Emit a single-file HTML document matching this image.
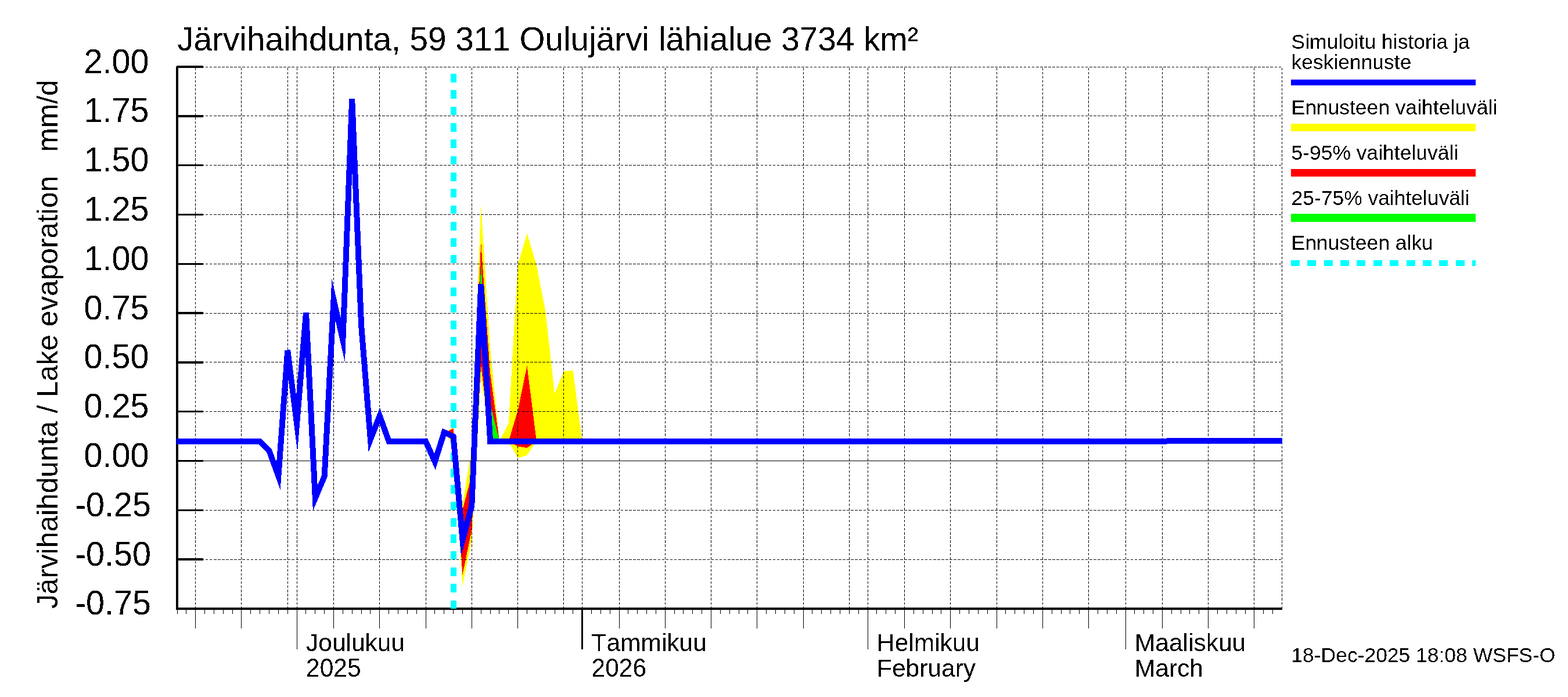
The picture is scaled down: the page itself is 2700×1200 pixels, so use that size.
<!DOCTYPE html>
<html lang="fi"><head><meta charset="utf-8">
<title>Järvihaihdunta, 59 311 Oulujärvi lähialue 3734 km²</title>
<style>
html,body{margin:0;padding:0;background:#fff;}
body{width:2700px;height:1200px;overflow:hidden;}
svg{display:block;}
text{font-family:"Liberation Sans", Arial, Helvetica, sans-serif;fill:#000;font-kerning:none;font-variant-ligatures:none;}
.t57{font-size:56.7px;}.tk{font-size:57.5px;}.yl{font-size:49.65px;}.t43{font-size:42.5px;}.t35{font-size:35.45px;}
</style></head><body>
<svg width="2700" height="1200" viewBox="0 0 2700 1200" shape-rendering="crispEdges">
<defs><filter id="crisp" x="0" y="0" width="2700" height="1200" filterUnits="userSpaceOnUse" color-interpolation-filters="sRGB"><feComponentTransfer><feFuncA type="discrete" tableValues="0 1"/></feComponentTransfer></filter></defs>
<rect x="0" y="0" width="2700" height="1200" fill="#ffffff"/>
<g id="bands">
<polygon fill="#ffff00" points="764.8,745.0 780.6,736.0 796.5,868.0 812.3,772.0 828.2,352.0 844.1,600.0 859.9,759.0 875.8,729.0 891.6,456.0 907.5,402.0 923.3,454.0 939.2,535.0 955.0,678.0 970.9,639.0 986.7,638.0 1002.6,760.0 1002.6,760.0 986.7,760.0 970.9,760.0 955.0,760.0 939.2,760.0 923.3,760.0 907.5,784.0 891.6,788.5 875.8,760.0 859.9,760.0 844.1,760.0 828.2,647.0 812.3,929.0 796.5,1008.0 780.6,765.0 764.8,745.0"/>
<polygon fill="#ff0000" points="764.8,745.0 780.6,738.0 796.5,877.0 812.3,818.0 828.2,417.0 844.1,642.0 859.9,759.0 875.8,760.0 891.6,707.0 907.5,630.0 923.3,755.0 939.2,760.0 939.2,760.0 923.3,760.0 907.5,771.0 891.6,768.5 875.8,760.0 859.9,760.0 844.1,760.0 828.2,629.0 812.3,913.0 796.5,989.0 780.6,757.0 764.8,745.0"/>
<polygon fill="#00ff00" points="812.3,871.0 828.2,455.0 844.1,695.0 859.9,759.0 859.9,760.0 844.1,760.0 828.2,520.0 812.3,871.0"/>
</g>
<g id="grid" stroke="#000" stroke-width="1" fill="none">
<line x1="304.20" y1="115.5" x2="2207.00" y2="115.5" stroke-dasharray="4.6 2.48"/>
<line x1="304.20" y1="199.5" x2="2207.00" y2="199.5" stroke-dasharray="4.6 2.48"/>
<line x1="304.20" y1="284.5" x2="2207.00" y2="284.5" stroke-dasharray="4.6 2.48"/>
<line x1="304.20" y1="369.5" x2="2207.00" y2="369.5" stroke-dasharray="4.6 2.48"/>
<line x1="304.20" y1="454.5" x2="2207.00" y2="454.5" stroke-dasharray="4.6 2.48"/>
<line x1="304.20" y1="539.5" x2="2207.00" y2="539.5" stroke-dasharray="4.6 2.48"/>
<line x1="304.20" y1="623.5" x2="2207.00" y2="623.5" stroke-dasharray="4.6 2.48"/>
<line x1="304.20" y1="708.5" x2="2207.00" y2="708.5" stroke-dasharray="4.6 2.48"/>
<line x1="304.20" y1="878.5" x2="2207.00" y2="878.5" stroke-dasharray="4.6 2.48"/>
<line x1="304.20" y1="963.5" x2="2207.00" y2="963.5" stroke-dasharray="4.6 2.48"/>
<line x1="336.5" y1="1047.85" x2="336.5" y2="115.00" stroke-dasharray="4.24 2.835"/>
<line x1="415.5" y1="1047.85" x2="415.5" y2="115.00" stroke-dasharray="4.24 2.835"/>
<line x1="495.5" y1="1047.85" x2="495.5" y2="115.00" stroke-dasharray="4.24 2.835"/>
<line x1="511.5" y1="1047.85" x2="511.5" y2="115.00" stroke-dasharray="4.24 2.835"/>
<line x1="574.5" y1="1047.85" x2="574.5" y2="115.00" stroke-dasharray="4.24 2.835"/>
<line x1="653.5" y1="1047.85" x2="653.5" y2="115.00" stroke-dasharray="4.24 2.835"/>
<line x1="733.5" y1="1047.85" x2="733.5" y2="115.00" stroke-dasharray="4.24 2.835"/>
<line x1="812.5" y1="1047.85" x2="812.5" y2="115.00" stroke-dasharray="4.24 2.835"/>
<line x1="891.5" y1="1047.85" x2="891.5" y2="115.00" stroke-dasharray="4.24 2.835"/>
<line x1="970.5" y1="1047.85" x2="970.5" y2="115.00" stroke-dasharray="4.24 2.835"/>
<line x1="1002.5" y1="1047.85" x2="1002.5" y2="115.00" stroke-dasharray="4.24 2.835"/>
<line x1="1066.5" y1="1047.85" x2="1066.5" y2="115.00" stroke-dasharray="4.24 2.835"/>
<line x1="1145.5" y1="1047.85" x2="1145.5" y2="115.00" stroke-dasharray="4.24 2.835"/>
<line x1="1224.5" y1="1047.85" x2="1224.5" y2="115.00" stroke-dasharray="4.24 2.835"/>
<line x1="1303.5" y1="1047.85" x2="1303.5" y2="115.00" stroke-dasharray="4.24 2.835"/>
<line x1="1383.5" y1="1047.85" x2="1383.5" y2="115.00" stroke-dasharray="4.24 2.835"/>
<line x1="1462.5" y1="1047.85" x2="1462.5" y2="115.00" stroke-dasharray="4.24 2.835"/>
<line x1="1494.5" y1="1047.85" x2="1494.5" y2="115.00" stroke-dasharray="4.24 2.835"/>
<line x1="1557.5" y1="1047.85" x2="1557.5" y2="115.00" stroke-dasharray="4.24 2.835"/>
<line x1="1636.5" y1="1047.85" x2="1636.5" y2="115.00" stroke-dasharray="4.24 2.835"/>
<line x1="1716.5" y1="1047.85" x2="1716.5" y2="115.00" stroke-dasharray="4.24 2.835"/>
<line x1="1795.5" y1="1047.85" x2="1795.5" y2="115.00" stroke-dasharray="4.24 2.835"/>
<line x1="1874.5" y1="1047.85" x2="1874.5" y2="115.00" stroke-dasharray="4.24 2.835"/>
<line x1="1938.5" y1="1047.85" x2="1938.5" y2="115.00" stroke-dasharray="4.24 2.835"/>
<line x1="2001.5" y1="1047.85" x2="2001.5" y2="115.00" stroke-dasharray="4.24 2.835"/>
<line x1="2080.5" y1="1047.85" x2="2080.5" y2="115.00" stroke-dasharray="4.24 2.835"/>
<line x1="2159.5" y1="1047.85" x2="2159.5" y2="115.00" stroke-dasharray="4.24 2.835"/>
<line x1="2207.5" y1="1047.85" x2="2207.5" y2="115.00" stroke-dasharray="4.24 2.835"/>
</g>
<g id="axes" fill="#000">
<rect x="303" y="115" width="4" height="935"/>
<rect x="303" y="1046" width="1905" height="4"/>
<rect x="304" y="113" width="46" height="4"/>
<rect x="304" y="198" width="46" height="4"/>
<rect x="304" y="283" width="46" height="3"/>
<rect x="304" y="368" width="46" height="3"/>
<rect x="304" y="453" width="46" height="3"/>
<rect x="304" y="537" width="46" height="4"/>
<rect x="304" y="622" width="46" height="4"/>
<rect x="304" y="707" width="46" height="3"/>
<rect x="304" y="792" width="46" height="3"/>
<rect x="304" y="877" width="46" height="3"/>
<rect x="304" y="961" width="46" height="4"/>
<rect x="305" y="1048" width="1" height="9"/>
<rect x="320" y="1048" width="1" height="9"/>
<rect x="336" y="1048" width="1" height="34"/>
<rect x="352" y="1048" width="1" height="9"/>
<rect x="368" y="1048" width="1" height="9"/>
<rect x="384" y="1048" width="1" height="9"/>
<rect x="400" y="1048" width="1" height="9"/>
<rect x="415" y="1048" width="1" height="34"/>
<rect x="431" y="1048" width="1" height="9"/>
<rect x="447" y="1048" width="1" height="9"/>
<rect x="463" y="1048" width="1" height="9"/>
<rect x="479" y="1048" width="1" height="9"/>
<rect x="495" y="1048" width="1" height="9"/>
<rect x="511" y="1048" width="1" height="70"/>
<rect x="526" y="1048" width="1" height="9"/>
<rect x="542" y="1048" width="1" height="9"/>
<rect x="558" y="1048" width="1" height="9"/>
<rect x="574" y="1048" width="1" height="34"/>
<rect x="590" y="1048" width="1" height="9"/>
<rect x="606" y="1048" width="1" height="9"/>
<rect x="622" y="1048" width="1" height="9"/>
<rect x="637" y="1048" width="1" height="9"/>
<rect x="653" y="1048" width="1" height="34"/>
<rect x="669" y="1048" width="1" height="9"/>
<rect x="685" y="1048" width="1" height="9"/>
<rect x="701" y="1048" width="1" height="9"/>
<rect x="717" y="1048" width="1" height="9"/>
<rect x="733" y="1048" width="1" height="34"/>
<rect x="748" y="1048" width="1" height="9"/>
<rect x="764" y="1048" width="1" height="9"/>
<rect x="780" y="1048" width="1" height="9"/>
<rect x="796" y="1048" width="1" height="9"/>
<rect x="812" y="1048" width="1" height="34"/>
<rect x="828" y="1048" width="1" height="9"/>
<rect x="844" y="1048" width="1" height="9"/>
<rect x="859" y="1048" width="1" height="9"/>
<rect x="875" y="1048" width="1" height="9"/>
<rect x="891" y="1048" width="1" height="34"/>
<rect x="907" y="1048" width="1" height="9"/>
<rect x="923" y="1048" width="1" height="9"/>
<rect x="939" y="1048" width="1" height="9"/>
<rect x="955" y="1048" width="1" height="9"/>
<rect x="970" y="1048" width="1" height="9"/>
<rect x="986" y="1048" width="1" height="9"/>
<rect x="1001" y="1048" width="3" height="70"/>
<rect x="1018" y="1048" width="1" height="9"/>
<rect x="1034" y="1048" width="1" height="9"/>
<rect x="1050" y="1048" width="1" height="9"/>
<rect x="1066" y="1048" width="1" height="34"/>
<rect x="1081" y="1048" width="1" height="9"/>
<rect x="1097" y="1048" width="1" height="9"/>
<rect x="1113" y="1048" width="1" height="9"/>
<rect x="1129" y="1048" width="1" height="9"/>
<rect x="1145" y="1048" width="1" height="34"/>
<rect x="1161" y="1048" width="1" height="9"/>
<rect x="1176" y="1048" width="1" height="9"/>
<rect x="1192" y="1048" width="1" height="9"/>
<rect x="1208" y="1048" width="1" height="9"/>
<rect x="1224" y="1048" width="1" height="34"/>
<rect x="1240" y="1048" width="1" height="9"/>
<rect x="1256" y="1048" width="1" height="9"/>
<rect x="1272" y="1048" width="1" height="9"/>
<rect x="1287" y="1048" width="1" height="9"/>
<rect x="1303" y="1048" width="1" height="34"/>
<rect x="1319" y="1048" width="1" height="9"/>
<rect x="1335" y="1048" width="1" height="9"/>
<rect x="1351" y="1048" width="1" height="9"/>
<rect x="1367" y="1048" width="1" height="9"/>
<rect x="1383" y="1048" width="1" height="34"/>
<rect x="1398" y="1048" width="1" height="9"/>
<rect x="1414" y="1048" width="1" height="9"/>
<rect x="1430" y="1048" width="1" height="9"/>
<rect x="1446" y="1048" width="1" height="9"/>
<rect x="1462" y="1048" width="1" height="9"/>
<rect x="1478" y="1048" width="1" height="9"/>
<rect x="1494" y="1048" width="1" height="70"/>
<rect x="1509" y="1048" width="1" height="9"/>
<rect x="1525" y="1048" width="1" height="9"/>
<rect x="1541" y="1048" width="1" height="9"/>
<rect x="1557" y="1048" width="1" height="34"/>
<rect x="1573" y="1048" width="1" height="9"/>
<rect x="1589" y="1048" width="1" height="9"/>
<rect x="1605" y="1048" width="1" height="9"/>
<rect x="1620" y="1048" width="1" height="9"/>
<rect x="1636" y="1048" width="1" height="34"/>
<rect x="1652" y="1048" width="1" height="9"/>
<rect x="1668" y="1048" width="1" height="9"/>
<rect x="1684" y="1048" width="1" height="9"/>
<rect x="1700" y="1048" width="1" height="9"/>
<rect x="1716" y="1048" width="1" height="34"/>
<rect x="1731" y="1048" width="1" height="9"/>
<rect x="1747" y="1048" width="1" height="9"/>
<rect x="1763" y="1048" width="1" height="9"/>
<rect x="1779" y="1048" width="1" height="9"/>
<rect x="1795" y="1048" width="1" height="34"/>
<rect x="1811" y="1048" width="1" height="9"/>
<rect x="1827" y="1048" width="1" height="9"/>
<rect x="1842" y="1048" width="1" height="9"/>
<rect x="1858" y="1048" width="1" height="9"/>
<rect x="1874" y="1048" width="1" height="34"/>
<rect x="1890" y="1048" width="1" height="9"/>
<rect x="1906" y="1048" width="1" height="9"/>
<rect x="1922" y="1048" width="1" height="9"/>
<rect x="1938" y="1048" width="1" height="70"/>
<rect x="1953" y="1048" width="1" height="9"/>
<rect x="1969" y="1048" width="1" height="9"/>
<rect x="1985" y="1048" width="1" height="9"/>
<rect x="2001" y="1048" width="1" height="34"/>
<rect x="2017" y="1048" width="1" height="9"/>
<rect x="2033" y="1048" width="1" height="9"/>
<rect x="2048" y="1048" width="1" height="9"/>
<rect x="2064" y="1048" width="1" height="9"/>
<rect x="2080" y="1048" width="1" height="34"/>
<rect x="2096" y="1048" width="1" height="9"/>
<rect x="2112" y="1048" width="1" height="9"/>
<rect x="2128" y="1048" width="1" height="9"/>
<rect x="2144" y="1048" width="1" height="9"/>
<rect x="2159" y="1048" width="1" height="34"/>
<rect x="2175" y="1048" width="1" height="9"/>
<rect x="2191" y="1048" width="1" height="9"/>
</g>
<line id="fc" x1="781.0" y1="1048.30" x2="781.0" y2="115.00" stroke="#00ffff" stroke-width="10" stroke-dasharray="14.7 13.63"/>
<line x1="305.0" y1="793.5" x2="2208.0" y2="793.5" stroke="#000" stroke-width="1"/>
<polyline id="sim" fill="none" stroke="#0000ff" stroke-width="10" stroke-linejoin="miter" stroke-miterlimit="10" points="304.0,760.0 320.9,760.0 336.7,760.0 352.6,760.0 368.4,760.0 384.3,760.0 400.1,760.0 416.0,760.0 431.8,760.0 447.7,760.0 463.5,776.0 479.4,819.6 495.3,603.0 511.1,729.7 527.0,538.0 542.8,857.6 558.7,820.0 574.5,516.0 590.4,585.5 606.2,170.0 622.1,560.0 637.9,756.5 653.8,716.0 669.7,760.0 685.5,760.0 701.4,760.0 717.2,760.0 733.1,760.0 748.9,795.0 764.8,744.3 780.6,751.5 796.5,929.4 812.3,871.0 828.2,489.0 844.1,760.0 859.9,760.0 875.8,760.0 891.6,760.0 907.5,760.0 923.3,760.0 939.2,760.0 955.0,760.0 970.9,760.0 986.7,760.0 1002.6,760.0 1018.5,760.0 1034.3,760.0 1050.2,760.0 1066.0,760.0 1081.9,760.0 1097.7,760.0 1113.6,760.0 1129.4,760.0 1145.3,760.0 1161.1,760.0 1177.0,760.0 1192.9,760.0 1208.7,760.0 1224.6,760.0 1240.4,760.0 1256.3,760.0 1272.1,760.0 1288.0,760.0 1303.8,760.0 1319.7,760.0 1335.5,760.0 1351.4,760.0 1367.3,760.0 1383.1,760.0 1399.0,760.0 1414.8,760.0 1430.7,760.0 1446.5,760.0 1462.4,760.0 1478.2,760.0 1494.1,760.0 1509.9,760.0 1525.8,760.0 1541.7,760.0 1557.5,760.0 1573.4,760.0 1589.2,760.0 1605.1,760.0 1620.9,760.0 1636.8,760.0 1652.6,760.0 1668.5,760.0 1684.3,760.0 1700.2,760.0 1716.1,760.0 1731.9,760.0 1747.8,760.0 1763.6,760.0 1779.5,760.0 1795.3,760.0 1811.2,760.0 1827.0,760.0 1842.9,760.0 1858.7,760.0 1874.6,760.0 1890.5,760.0 1906.3,760.0 1922.2,760.0 1938.0,760.0 1953.9,760.0 1969.7,760.0 1985.6,760.0 2001.4,760.0 2017.3,759.0 2033.1,759.0 2049.0,759.0 2064.8,759.0 2080.7,759.0 2096.6,759.0 2112.4,759.0 2128.3,759.0 2144.1,759.0 2160.0,759.0 2175.8,759.0 2191.7,759.0 2208.0,759.0"/>
<g id="labels" filter="url(#crisp)">
<text class="t57" x="305.2" y="87.3">Järvihaihdunta, 59 311 Oulujärvi lähialue 3734 km²</text>
<text class="tk" transform="translate(256.5,125.8) scale(1,1.03)" x="0" y="0" text-anchor="end">2.00</text>
<text class="tk" transform="translate(256.5,209.8) scale(1,1.03)" x="0" y="0" text-anchor="end">1.75</text>
<text class="tk" transform="translate(256.5,294.8) scale(1,1.03)" x="0" y="0" text-anchor="end">1.50</text>
<text class="tk" transform="translate(256.5,379.8) scale(1,1.03)" x="0" y="0" text-anchor="end">1.25</text>
<text class="tk" transform="translate(256.5,464.8) scale(1,1.03)" x="0" y="0" text-anchor="end">1.00</text>
<text class="tk" transform="translate(256.5,549.8) scale(1,1.03)" x="0" y="0" text-anchor="end">0.75</text>
<text class="tk" transform="translate(256.5,633.8) scale(1,1.03)" x="0" y="0" text-anchor="end">0.50</text>
<text class="tk" transform="translate(256.5,718.8) scale(1,1.03)" x="0" y="0" text-anchor="end">0.25</text>
<text class="tk" transform="translate(256.5,803.8) scale(1,1.03)" x="0" y="0" text-anchor="end">0.00</text>
<text class="tk" transform="translate(260.0,888.8) scale(1,1.03)" x="0" y="0" text-anchor="end">-0.25</text>
<text class="tk" transform="translate(260.0,973.8) scale(1,1.03)" x="0" y="0" text-anchor="end">-0.50</text>
<text class="tk" transform="translate(260.0,1057.8) scale(1,1.03)" x="0" y="0" text-anchor="end">-0.75</text>
<text class="yl" transform="translate(99,1048) rotate(-90)" x="0" y="0" xml:space="preserve" style="white-space:pre">Järvihaihdunta / Lake evaporation   mm/d</text>
<text class="t43" x="527.0" y="1121">Joulukuu</text>
<text class="t43" transform="translate(527.0,1165.3) scale(1,1.04)" x="0" y="0">2025</text>
<text class="t43" x="1018.5" y="1121">Tammikuu</text>
<text class="t43" transform="translate(1018.5,1165.3) scale(1,1.04)" x="0" y="0">2026</text>
<text class="t43" x="1510.0" y="1121">Helmikuu</text>
<text class="t43" x="1510.0" y="1165">February</text>
<text class="t43" x="1953.9" y="1121">Maaliskuu</text>
<text class="t43" x="1953.9" y="1165">March</text>
<text class="t35" x="2223.4" y="1140.2">18-Dec-2025 18:08 WSFS-O</text>
</g>
<g id="legend" filter="url(#crisp)">
<text class="t35" x="2223.5" y="84">Simuloitu historia ja</text>
<text class="t35" x="2223.5" y="119">keskiennuste</text>
<rect x="2223" y="137" width="318" height="10" fill="#0000ff"/>
<text class="t35" x="2223.5" y="196.6">Ennusteen vaihteluväli</text>
<rect x="2223" y="213" width="318" height="13" fill="#ffff00"/>
<text class="t35" x="2223.5" y="275">5-95% vaihteluväli</text>
<rect x="2223" y="291" width="318" height="13" fill="#ff0000"/>
<text class="t35" x="2223.5" y="352.7">25-75% vaihteluväli</text>
<rect x="2223" y="368" width="318" height="14" fill="#00ff00"/>
<text class="t35" x="2223.5" y="429.8">Ennusteen alku</text>
<line x1="2223" y1="453" x2="2541" y2="453" stroke="#00ffff" stroke-width="10" stroke-dasharray="15 13.37"/>
</g>
</svg>
</body></html>
